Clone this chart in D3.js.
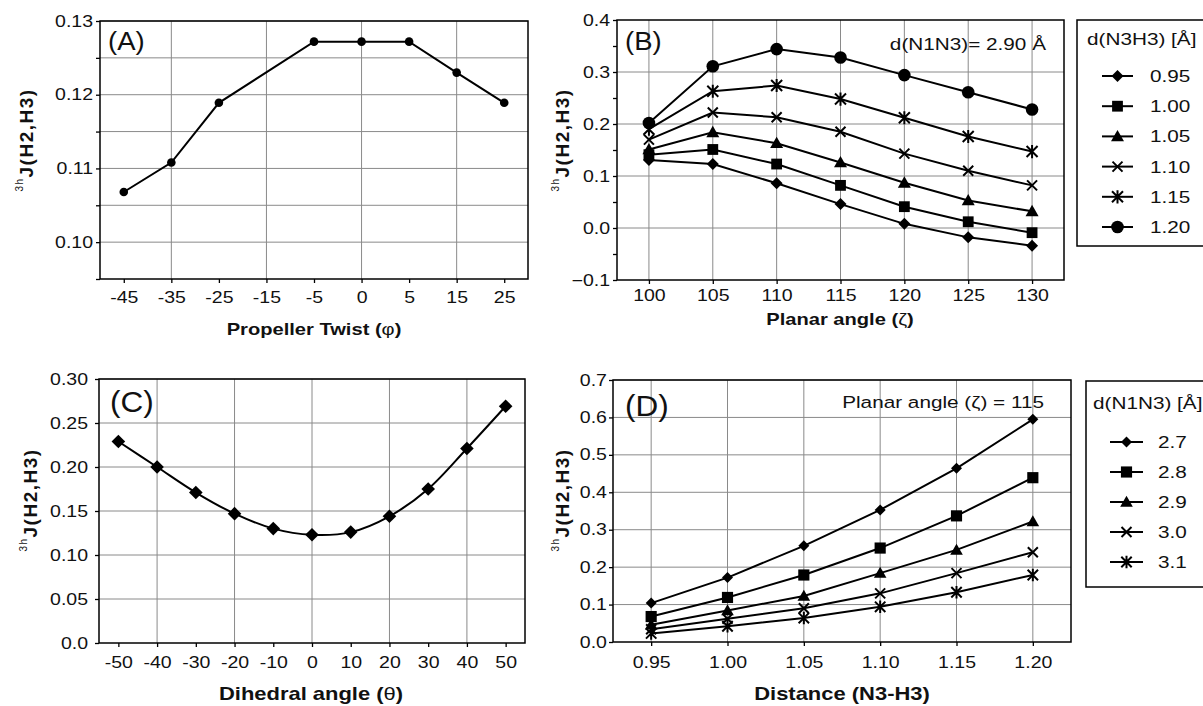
<!DOCTYPE html>
<html>
<head>
<meta charset="utf-8">
<script src="https://cdn.jsdelivr.net/npm/d3@7"></script>
<style>
  body { margin: 0; background: #fff; }
  svg text { font-family: "Liberation Sans", Arial, sans-serif; fill: #111; }
</style>
</head>
<body>
<div id="chart"></div>
<script>
// (A) propeller twist
const twistAngles = ['-45', '-35', '-25', '-15', '-5', '0', '5', '15', '25'];
const twistJ = [0.1068, 0.1108, 0.1189, null, 0.1272, 0.1272, 0.1272, 0.1230, 0.1189];

// (B) planar angle, one series per d(N3H3)
const planarAngles = ['100', '105', '110', '115', '120', '125', '130'];
const n3h3Labels = ['0.95', '1.00', '1.05', '1.10', '1.15', '1.20'];
const planarJ095 = [0.131, 0.123, 0.086, 0.046, 0.008, -0.018, -0.034];
const planarJ100 = [0.141, 0.151, 0.123, 0.082, 0.041, 0.012, -0.009];
const planarJ105 = [0.151, 0.184, 0.163, 0.126, 0.087, 0.053, 0.032];
const planarJ110 = [0.170, 0.222, 0.213, 0.185, 0.143, 0.110, 0.082];
const planarJ115 = [0.190, 0.263, 0.274, 0.248, 0.212, 0.176, 0.147];
const planarJ120 = [0.202, 0.311, 0.344, 0.328, 0.294, 0.261, 0.228];

// (C) dihedral angle
const dihedralAngles = ['-50', '-40', '-30', '-20', '-10', '0', '10', '20', '30', '40', '50'];
const dihedralJ = [0.229, 0.200, 0.171, 0.147, 0.130, 0.123, 0.126, 0.144, 0.175, 0.221, 0.269];

// (D) distance N3-H3, one series per d(N1N3)
const distances = ['0.95', '1.00', '1.05', '1.10', '1.15', '1.20'];
const n1n3Labels = ['2.7', '2.8', '2.9', '3.0', '3.1'];
const distJ27 = [0.104, 0.172, 0.257, 0.353, 0.464, 0.595];
const distJ28 = [0.068, 0.119, 0.179, 0.251, 0.337, 0.439];
const distJ29 = [0.046, 0.084, 0.123, 0.184, 0.246, 0.322];
const distJ30 = [0.034, 0.062, 0.090, 0.130, 0.184, 0.240];
const distJ31 = [0.023, 0.042, 0.064, 0.094, 0.133, 0.179];

document.addEventListener('DOMContentLoaded', () => {
    const SX = 1.22; // the scan is stretched sideways, so are the letters

    const svg = d3.select('#chart').append('svg')
        .attr('width', 1203)
        .attr('height', 706)
        .style('background-color', 'white');

    const drawMarker = (g, type, cx, cy, r) => {
        const m = g.append('g').attr('transform', `translate(${cx},${cy})`);
        switch (type) {
            case 'circle':
                m.append('circle').attr('r', r).attr('fill', '#000');
                break;
            case 'square':
                m.append('rect').attr('x', -r * 0.9).attr('y', -r * 0.9)
                    .attr('width', r * 1.8).attr('height', r * 1.8).attr('fill', '#000');
                break;
            case 'diamond':
                m.append('path').attr('d', `M0,${-r}L${r},0L0,${r}L${-r},0Z`).attr('fill', '#000');
                break;
            case 'triangle':
                m.append('path').attr('d', `M0,${-r}L${r},${r * 0.75}L${-r},${r * 0.75}Z`).attr('fill', '#000');
                break;
            case 'cross':
                m.append('path').attr('d', `M${-r},${-r}L${r},${r}M${-r},${r}L${r},${-r}`)
                    .attr('stroke', '#000').attr('stroke-width', 2);
                break;
            case 'star':
                m.append('path').attr('d', `M${-r},${-r}L${r},${r}M${-r},${r}L${r},${-r}M0,${-r * 1.2}L0,${r * 1.2}`)
                    .attr('stroke', '#000').attr('stroke-width', 2);
                break;
        }
    };

    // text made of [string, weight] parts, stretched sideways like the scan
    const addText = (x, y, parts, size, anchor = 'start', sx = SX) => {
        const t = svg.append('text')
            .attr('transform', `translate(${x},${y}) scale(${sx},1)`)
            .attr('text-anchor', anchor)
            .style('font-size', size + 'px');
        (typeof parts === 'string' ? [[parts, 'normal']] : parts).forEach(p => {
            t.append('tspan').style('font-weight', p[1]).text(p[0]);
        });
        return t;
    };

    const yLabel = (x, y) => {
        const t = svg.append('text')
            .attr('transform', `translate(${x},${y}) rotate(-90)`)
            .attr('text-anchor', 'middle')
            .style('letter-spacing', '1.5px');
        t.append('tspan').text('3h').style('font-size', '10px').attr('dy', -10);
        t.append('tspan').text('J(H2,H3)').style('font-size', '19px').style('font-weight', 'bold').attr('dy', 10);
    };

    const panel = (cfg) => {
        const x = d3.scalePoint().domain(cfg.cats).range([cfg.left, cfg.right]).padding(0.5);
        const y = d3.scaleLinear().domain(cfg.yDomain).range([cfg.bottom, cfg.top]);
        const g = svg.append('g');

        // grid
        g.append('g').selectAll('line').data(cfg.yGrid).join('line')
            .attr('x1', cfg.left).attr('x2', cfg.right)
            .attr('y1', d => y(d)).attr('y2', d => y(d))
            .attr('stroke', '#8a8a8a').attr('stroke-width', 1);
        g.append('g').selectAll('line').data(cfg.xGrid).join('line')
            .attr('x1', d => x(d)).attr('x2', d => x(d))
            .attr('y1', cfg.top).attr('y2', cfg.bottom)
            .attr('stroke', '#8a8a8a').attr('stroke-width', 1);

        // axes
        const ya = g.append('g').attr('transform', `translate(${cfg.left},0)`)
            .call(d3.axisLeft(y).tickValues(cfg.yTicks).tickFormat(cfg.yFormat)
                .tickSize(4).tickSizeOuter(0).tickPadding(cfg.yPad));
        const xa = g.append('g').attr('transform', `translate(0,${cfg.bottom})`)
            .call(d3.axisBottom(x).tickSize(4).tickSizeOuter(0).tickPadding(cfg.xPad));
        [ya, xa].forEach(a => {
            a.select('.domain').remove();
            a.selectAll('line').attr('stroke', '#000').attr('stroke-width', 1.3);
            a.selectAll('text').attr('transform', `scale(${SX},1)`).style('font-size', '16px');
        });

        // frame
        g.append('rect')
            .attr('x', cfg.left).attr('y', cfg.top)
            .attr('width', cfg.right - cfg.left).attr('height', cfg.bottom - cfg.top)
            .attr('fill', 'none').attr('stroke', '#000').attr('stroke-width', 1.5);

        // series
        const line = d3.line().x(d => x(d.c)).y(d => y(d.v)).curve(cfg.curve || d3.curveLinear);
        cfg.series.forEach(s => {
            const pts = cfg.cats.map((c, i) => ({ c, v: s.values[i] })).filter(d => d.v != null);
            g.append('path').datum(pts).attr('d', line)
                .attr('fill', 'none').attr('stroke', '#000').attr('stroke-width', 2);
            pts.forEach(d => drawMarker(g, s.marker, x(d.c), y(d.v), s.r));
        });
    };

    const legend = (cfg) => {
        svg.append('rect')
            .attr('x', cfg.x).attr('y', cfg.top)
            .attr('width', 200).attr('height', cfg.bottom - cfg.top)
            .attr('fill', 'white').attr('stroke', '#000').attr('stroke-width', 1.5);
        addText(cfg.x + cfg.titleDx, cfg.titleY, cfg.title, 17);
        cfg.labels.forEach((lab, i) => {
            const yy = cfg.firstY + i * cfg.stepY;
            svg.append('line')
                .attr('x1', cfg.lineX0).attr('x2', cfg.lineX1).attr('y1', yy).attr('y2', yy)
                .attr('stroke', '#000').attr('stroke-width', 2);
            drawMarker(svg, cfg.markers[i], (cfg.lineX0 + cfg.lineX1) / 2, yy, cfg.r[i]);
            addText(cfg.textX, yy + 6, lab, 17);
        });
    };

    const f2 = d3.format('.2f');
    const f1 = d3.format('.1f');

    // ---- (A)
    panel({
        cats: twistAngles, left: 100, right: 528, top: 21, bottom: 279,
        yDomain: [0.095, 0.13],
        yTicks: d3.range(0.095, 0.1301, 0.005),
        yFormat: d => (Math.round(d * 1000) % 10 === 0 ? f2(d) : ''),
        yGrid: d3.range(0.10, 0.1301, 0.005),
        xGrid: twistAngles.filter((d, i) => i % 2 === 1),
        yPad: 1.7, xPad: 8.5,
        series: [{ values: twistJ, marker: 'circle', r: 4.3 }]
    });
    addText(108, 50, '(A)', 25, 'start', 1.1);
    yLabel(33, 140);
    addText(314, 335, [['Propeller Twist (', 'bold'], ['φ', 'normal'], [')', 'bold']], 16.5, 'middle');

    // ---- (B)
    const planarMarkers = ['diamond', 'square', 'triangle', 'cross', 'star', 'circle'];
    const planarR = [6, 6, 6.5, 5, 5.5, 6.3];
    const planarSeries = [planarJ095, planarJ100, planarJ105, planarJ110, planarJ115, planarJ120];
    panel({
        cats: planarAngles, left: 617, right: 1064, top: 20, bottom: 280,
        yDomain: [-0.1, 0.4],
        yTicks: d3.range(-0.1, 0.4001, 0.05),
        yFormat: d => (Math.round(d * 100) % 10 === 0 ? f1(d) : ''),
        yGrid: [0, 0.1, 0.2, 0.3],
        xGrid: planarAngles,
        yPad: 1.7, xPad: 6,
        series: planarSeries.map((v, i) => ({ values: v, marker: planarMarkers[i], r: planarR[i] }))
    });
    addText(625, 50, '(B)', 25, 'start', 1.1);
    yLabel(569, 140);
    addText(1046, 50, 'd(N1N3)= 2.90 Å', 17, 'end');
    addText(840, 325, [['Planar angle (', 'bold'], ['ζ', 'normal'], [')', 'bold']], 16.5, 'middle');
    legend({
        x: 1077, top: 20, bottom: 246, title: 'd(N3H3) [Å]', titleDx: 10, titleY: 45,
        labels: n3h3Labels, markers: planarMarkers, r: planarR,
        firstY: 76, stepY: 30.2, lineX0: 1102, lineX1: 1133, textX: 1150
    });

    // ---- (C)
    panel({
        cats: dihedralAngles, left: 99, right: 525, top: 379, bottom: 643,
        yDomain: [0, 0.30],
        yTicks: d3.range(0, 0.3001, 0.05),
        yFormat: d => (d === 0 ? '0.0' : f2(d)),
        yGrid: d3.range(0.05, 0.3001, 0.05),
        xGrid: dihedralAngles.filter((d, i) => i % 2 === 1),
        yPad: 5, xPad: 9.5,
        curve: d3.curveCatmullRom,
        series: [{ values: dihedralJ, marker: 'diamond', r: 6.8 }]
    });
    addText(110, 412, '(C)', 30, 'start', 1.05);
    yLabel(37, 500);
    addText(311, 700, [['Dihedral angle (', 'bold'], ['θ', 'normal'], [')', 'bold']], 18, 'middle');

    // ---- (D)
    const distMarkers = ['diamond', 'square', 'triangle', 'cross', 'star'];
    const distR = [5.5, 6.2, 6.3, 5, 5.2];
    const distSeries = [distJ27, distJ28, distJ29, distJ30, distJ31];
    panel({
        cats: distances, left: 613, right: 1071, top: 380, bottom: 642,
        yDomain: [0, 0.7],
        yTicks: d3.range(0, 0.7001, 0.1),
        yFormat: f1,
        yGrid: d3.range(0.1, 0.7001, 0.1),
        xGrid: distances,
        yPad: 1, xPad: 10.5,
        series: distSeries.map((v, i) => ({ values: v, marker: distMarkers[i], r: distR[i] }))
    });
    addText(625, 416, '(D)', 30, 'start', 1.05);
    yLabel(569, 500);
    addText(1044, 408, [['Planar angle (', 'normal'], ['ζ', 'normal'], [') = 115', 'normal']], 17, 'end');
    addText(842, 700, [['Distance (N3-H3)', 'bold']], 18, 'middle');
    legend({
        x: 1086, top: 381, bottom: 587, title: 'd(N1N3) [Å]', titleDx: 7, titleY: 409,
        labels: n1n3Labels, markers: distMarkers, r: distR,
        firstY: 442, stepY: 30, lineX0: 1110, lineX1: 1143, textX: 1158
    });
});
</script>
</body>
</html>
